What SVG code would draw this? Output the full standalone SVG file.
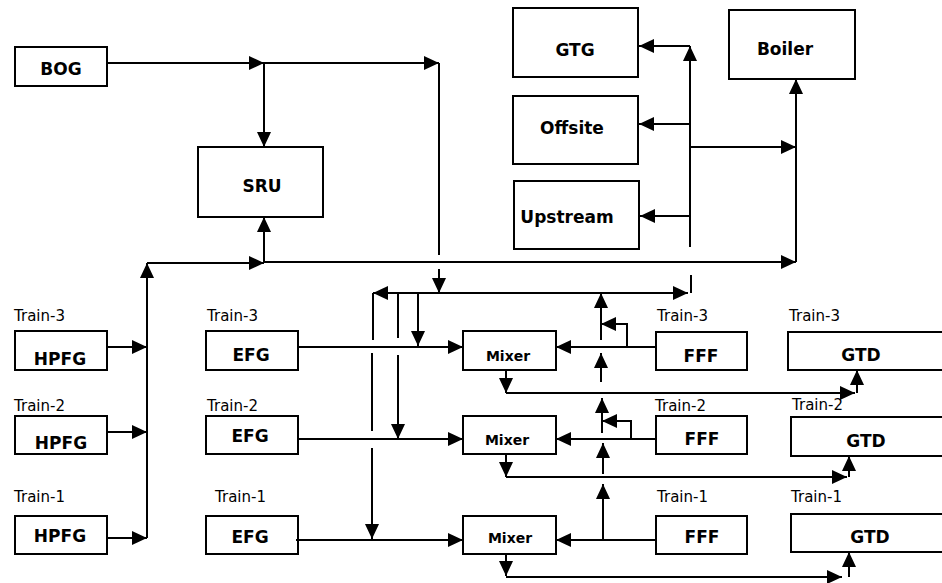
<svg xmlns="http://www.w3.org/2000/svg" width="942" height="583" viewBox="0 0 942 583">
<style>
.box{fill:#fff;stroke:#000;stroke-width:2}
.lbl{font-family:"DejaVu Sans",sans-serif;font-weight:bold;font-size:17px;text-anchor:middle;fill:#000}
.mx{font-size:14px}
.tr{font-family:"DejaVu Sans",sans-serif;font-size:15px;fill:#000}
.c path{fill:none;stroke:#000;stroke-width:2}
.c path.ar{marker-end:url(#a)}
</style>
<defs>
<marker id="a" markerWidth="15" markerHeight="14" refX="15" refY="7" orient="auto" markerUnits="userSpaceOnUse"><path d="M0,0L15,7L0,14z" fill="#000"/></marker>
</defs>
<rect width="942" height="583" fill="#fff"/>
<g id="bog"><rect class="box" x="15" y="47" width="92" height="39"/><text class="lbl" x="61" y="75">BOG</text></g>
<g id="sru"><rect class="box" x="198" y="147" width="125" height="70"/><text class="lbl" x="262" y="192">SRU</text></g>
<g id="gtg"><rect class="box" x="513" y="8" width="125" height="69"/><text class="lbl" x="575" y="56">GTG</text></g>
<g id="offsite"><rect class="box" x="513" y="96" width="125" height="68"/><text class="lbl" x="572" y="134">Offsite</text></g>
<g id="upstream"><rect class="box" x="514" y="181" width="125" height="68"/><text class="lbl" x="567" y="223">Upstream</text></g>
<g id="boiler"><rect class="box" x="729" y="10" width="126" height="69"/><text class="lbl" x="785" y="55">Boiler</text></g>

<g id="hpfg3"><text class="tr" x="14" y="321">Train-3</text><rect class="box" x="15" y="331" width="92" height="39"/><text class="lbl" x="60" y="365">HPFG</text></g>
<g id="hpfg2"><text class="tr" x="14" y="411">Train-2</text><rect class="box" x="15" y="416" width="92" height="38"/><text class="lbl" x="61" y="449">HPFG</text></g>
<g id="hpfg1"><text class="tr" x="14" y="502">Train-1</text><rect class="box" x="15" y="516" width="92" height="38"/><text class="lbl" x="60" y="542">HPFG</text></g>

<g id="efg3"><text class="tr" x="207" y="321">Train-3</text><rect class="box" x="206" y="331" width="92" height="39"/><text class="lbl" x="251" y="361">EFG</text></g>
<g id="efg2"><text class="tr" x="207" y="411">Train-2</text><rect class="box" x="206" y="416" width="92" height="38"/><text class="lbl" x="250" y="442">EFG</text></g>
<g id="efg1"><text class="tr" x="215" y="502">Train-1</text><rect class="box" x="206" y="516" width="92" height="38"/><text class="lbl" x="250" y="543">EFG</text></g>

<g id="mixer3"><rect class="box" x="463" y="331" width="93" height="39"/><text class="lbl mx" x="508" y="361">Mixer</text></g>
<g id="mixer2"><rect class="box" x="463" y="416" width="93" height="38"/><text class="lbl mx" x="507" y="445">Mixer</text></g>
<g id="mixer1"><rect class="box" x="463" y="516" width="93" height="38"/><text class="lbl mx" x="510" y="543">Mixer</text></g>

<g id="fff3"><text class="tr" x="657" y="321">Train-3</text><rect class="box" x="656" y="332" width="91" height="38"/><text class="lbl" x="701" y="362">FFF</text></g>
<g id="fff2"><text class="tr" x="655" y="411">Train-2</text><rect class="box" x="656" y="416" width="91" height="38"/><text class="lbl" x="702" y="445">FFF</text></g>
<g id="fff1"><text class="tr" x="657" y="502">Train-1</text><rect class="box" x="656" y="516" width="91" height="38"/><text class="lbl" x="702" y="543">FFF</text></g>

<g id="gtd3"><text class="tr" x="789" y="321">Train-3</text><rect class="box" x="788" y="332" width="160" height="38"/><text class="lbl" x="861" y="361">GTD</text></g>
<g id="gtd2"><text class="tr" x="792" y="410">Train-2</text><rect class="box" x="791" y="417" width="160" height="39"/><text class="lbl" x="866" y="447">GTD</text></g>
<g id="gtd1"><text class="tr" x="791" y="502">Train-1</text><rect class="box" x="791" y="514" width="160" height="38"/><text class="lbl" x="870" y="543">GTD</text></g>

<g id="connectors" class="c">
<path class="ar" d="M107,63H264"/>
<path class="ar" d="M264,63H439"/>
<path class="ar" d="M264,63V147"/>
<path d="M439,63V255"/>
<path class="ar" d="M439,269V293"/>
<path class="ar" d="M107,347H147"/>
<path class="ar" d="M107,432H147"/>
<path class="ar" d="M107,538H147"/>
<path class="ar" d="M147,538V263"/>
<path class="ar" d="M147,263H264"/>
<path class="ar" d="M264,263V217"/>
<path class="ar" d="M264,262H796"/>
<path class="ar" d="M796,262V79"/>
<path class="ar" d="M690,247V46"/>
<path class="ar" d="M690,46H639"/>
<path class="ar" d="M690,124H639"/>
<path class="ar" d="M690,216H640"/>
<path class="ar" d="M690,147H796"/>
<path d="M691,275V293"/>
<path class="ar" d="M439,293H373"/>
<path class="ar" d="M439,293H688"/>
<path d="M373,293V340"/>
<path d="M372,353V431"/>
<path class="ar" d="M372,448V539"/>
<path d="M398,293V338"/>
<path class="ar" d="M398,355V439"/>
<path class="ar" d="M418,293V346"/>
<path class="ar" d="M298,347H463"/>
<path class="ar" d="M298,439H463"/>
<path class="ar" d="M296,540H463"/>
<path class="ar" d="M656,347H556"/>
<path class="ar" d="M656,439H556"/>
<path class="ar" d="M656,540H556"/>
<path class="ar" d="M601,340V293"/>
<path class="ar" d="M601,382V353"/>
<path class="ar" d="M627,347V324H601"/>
<path class="ar" d="M602,433V398"/>
<path class="ar" d="M631,439V421H602"/>
<path class="ar" d="M603,474V443"/>
<path class="ar" d="M603,540V484"/>
<path class="ar" d="M506,370V393"/>
<path class="ar" d="M506,393H855"/>
<path class="ar" d="M857,393V370"/>
<path class="ar" d="M506,454V477"/>
<path class="ar" d="M506,477H847"/>
<path class="ar" d="M849,477V456"/>
<path class="ar" d="M506,554V576"/>
<path class="ar" d="M506,577H842"/>
<path class="ar" d="M849,577V552"/>
</g>
</svg>
